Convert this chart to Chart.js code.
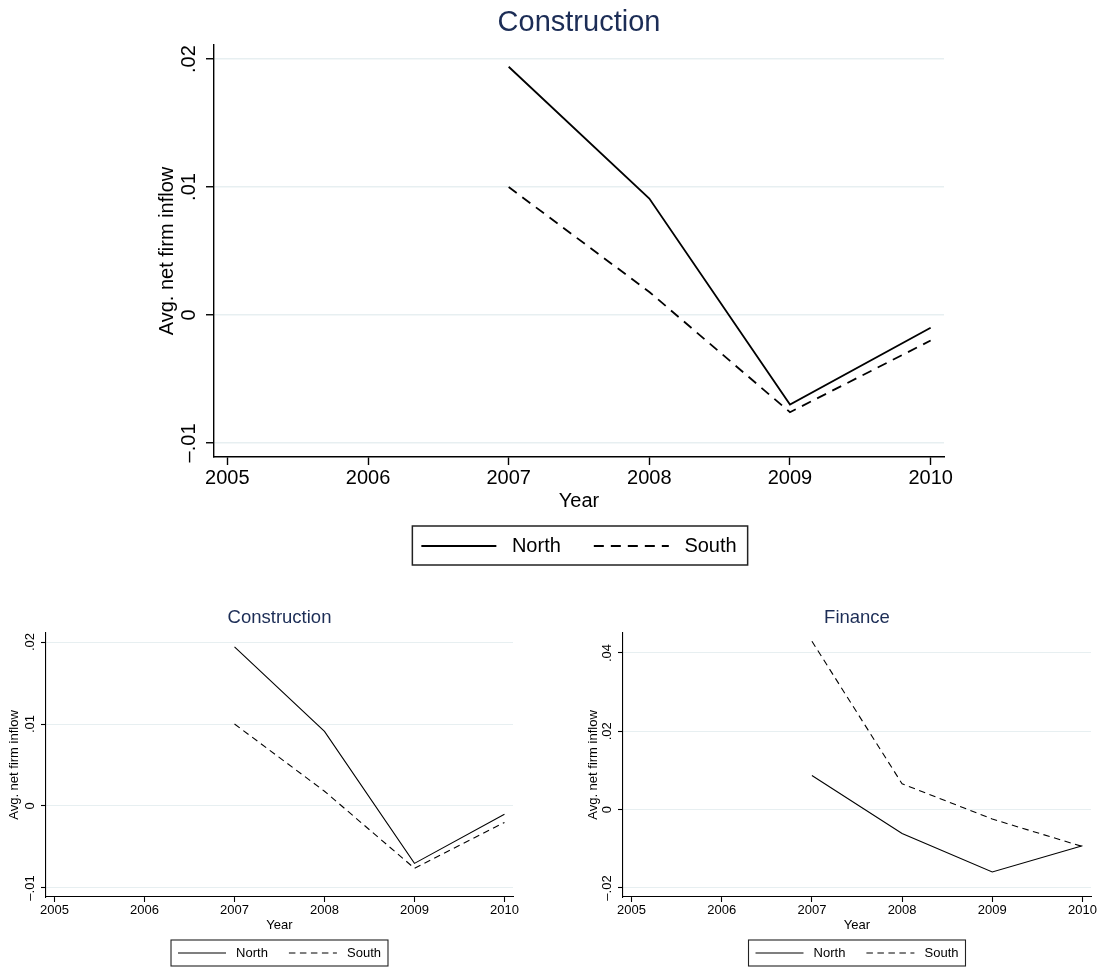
<!DOCTYPE html>
<html>
<head>
<meta charset="utf-8">
<script src="https://cdn.jsdelivr.net/npm/chart.js@4.4.1/dist/chart.umd.min.js"></script>
<style>
  html, body { margin: 0; padding: 0; overflow: hidden; background: #ffffff; width: 1105px; height: 969px; }
  canvas { position: absolute; }
</style>
</head>
<body>
<canvas id="cTop"></canvas>
<canvas id="cLeft"></canvas>
<canvas id="cRight"></canvas>
<script>
// ---------------- data ----------------
const years = [2007, 2008, 2009, 2010];
const xTickValues = [2005, 2006, 2007, 2008, 2009, 2010];
const seriesNames = ['North', 'South'];

const constructionNorth = [0.0194, 0.0091, -0.0070, -0.0010];
const constructionSouth = [0.0100, 0.0018, -0.0076, -0.0020];
const financeNorth = [0.0087, -0.0061, -0.0159, -0.0092];
const financeSouth = [0.0430, 0.0066, -0.0024, -0.0094];

const constructionYTicks = [-0.01, 0, 0.01, 0.02];
const constructionYLabels = ['\u2013.01', '0', '.01', '.02'];
const financeYTicks = [-0.02, 0, 0.02, 0.04];
const financeYLabels = ['\u2013.02', '0', '.02', '.04'];

const constructionRange = [-0.0111, 0.0211];
const financeRange = [-0.0223, 0.0451];
const xRange = [2004.905, 2010.095];

// ---------------- style ----------------
const FONT = '"Liberation Sans", Arial, Helvetica, sans-serif';
const TITLE_COLOR = '#1c2d56';
const GRID_COLOR = '#e7eff1';
Chart.defaults.font.family = FONT;
Chart.defaults.color = '#000';

function measure(text, size) {
  const c = document.createElement('canvas').getContext('2d');
  c.font = size + 'px ' + FONT;
  return c.measureText(text).width;
}

const legendFrame = {
  id: 'legendFrame',
  afterDraw(chart, args, opts) {
    const lg = chart.legend;
    if (!lg || !lg.legendHitBoxes || !lg.legendHitBoxes.length) return;
    let l = Infinity, r = -Infinity, t = Infinity, b = -Infinity;
    lg.legendHitBoxes.forEach(h => {
      l = Math.min(l, h.left); r = Math.max(r, h.left + h.width);
      t = Math.min(t, h.top); b = Math.max(b, h.top + h.height);
    });
    const cy = (t + b) / 2;
    const ctx = chart.ctx;
    ctx.save();
    ctx.strokeStyle = '#222';
    ctx.lineWidth = opts.width;
    ctx.setLineDash([]);
    ctx.strokeRect(l - opts.padL, cy - opts.up, r - l + opts.padL + opts.padR, opts.up + opts.down);
    ctx.restore();
  }
};

function makeChart(id, g, titleText, north, south, yTicks, yLabels, yRange) {
  const cv = document.getElementById(id);
  cv.width = g.canvas.w; cv.height = g.canvas.h;
  cv.style.left = g.canvas.x + 'px'; cv.style.top = g.canvas.y + 'px';
  cv.style.width = g.canvas.w + 'px'; cv.style.height = g.canvas.h + 'px';

  // relative geometry
  const A = { l: g.area.l - g.canvas.x, r: g.area.r - g.canvas.x, t: g.area.t - g.canvas.y, b: g.area.b - g.canvas.y };
  const lhTitle = g.fTitle * 1.2, lhTick = g.fTick * 1.2, lhAxis = g.fAxis * 1.2;
  const titlePadTop = (g.titleCY - g.canvas.y) - lhTitle / 2;
  const titlePadBottom = A.t - titlePadTop - lhTitle;
  const yW = A.l;
  const yTitlePadTop = (g.yTitleCX - g.canvas.x) - lhAxis / 2;
  const widest = Math.max(...yLabels.map(s => measure(s, g.fTick)));
  const yTickPad = (g.area.l - g.yLabelCX) - g.tickLen - widest / 2;
  const xH = (g.legendCY - g.legendPad - g.fLegend / 2) - g.area.b;
  const xTickPad = (g.xLabelCY - g.area.b) - g.tickLen - lhTick / 2;
  const xTitlePadBottom = (g.area.b + xH) - g.xTitleCY - lhAxis / 2;
  const legendH = g.fLegend + g.legendPad + 10;
  const padBottom = g.canvas.h - (A.b + xH + legendH);
  const padRight = g.canvas.w - A.r;

  const mk = (vals) => years.map((yr, i) => ({ x: yr, y: vals[i] }));

  return new Chart(cv, {
    type: 'line',
    data: {
      datasets: [
        { label: seriesNames[0], data: mk(north), borderColor: '#000', backgroundColor: '#000',
          borderWidth: g.lineW, borderDash: [], pointRadius: 0, tension: 0, fill: false },
        { label: seriesNames[1], data: mk(south), borderColor: '#000', backgroundColor: '#000',
          borderWidth: g.lineW, borderDash: g.dash, pointRadius: 0, tension: 0, fill: false }
      ]
    },
    options: {
      responsive: false,
      animation: false,
      devicePixelRatio: 1,
      events: [],
      layout: { padding: { left: 0, top: 0, right: padRight, bottom: padBottom } },
      plugins: {
        tooltip: { enabled: false },
        title: {
          display: true, text: titleText, color: TITLE_COLOR, fullSize: false,
          font: { size: g.fTitle, weight: 'normal', family: FONT, lineHeight: 1.2 },
          padding: { top: titlePadTop, bottom: titlePadBottom }
        },
        legend: {
          display: true, position: 'bottom', align: 'center', fullSize: false,
          labels: {
            usePointStyle: true, pointStyle: 'line', pointStyleWidth: g.sampleW,
            boxHeight: g.fLegend, padding: g.legendPad, color: '#000',
            font: { size: g.fLegend, family: FONT },
            generateLabels(chart) {
              return chart.data.datasets.map((ds, i) => ({
                text: ' ' + ds.label, fillStyle: '#000', strokeStyle: '#000', fontColor: '#000',
                lineWidth: g.lineW, lineDash: ds.borderDash || [], lineCap: 'butt',
                pointStyle: 'line', hidden: false, datasetIndex: i
              }));
            }
          }
        },
        legendFrame: { padL: g.frame.padL, padR: g.frame.padR, up: g.frame.up, down: g.frame.down, width: g.frameW }
      },
      scales: {
        x: {
          type: 'linear', position: 'bottom', min: xRange[0], max: xRange[1],
          afterBuildTicks: s => { s.ticks = xTickValues.map(v => ({ value: v })); },
          afterFit: s => { s.height = xH; },
          ticks: { autoSkip: false, maxRotation: 0, minRotation: 0, padding: xTickPad,
                   font: { size: g.fTick }, color: '#000', callback: v => String(v) },
          grid: { display: true, drawOnChartArea: false, drawTicks: true, tickLength: g.tickLen,
                  tickColor: '#000', tickWidth: g.axisW },
          border: { display: true, color: '#000', width: g.axisW },
          title: { display: true, text: 'Year', color: '#000', font: { size: g.fAxis, lineHeight: 1.2 },
                   padding: { top: 0, bottom: xTitlePadBottom } }
        },
        y: {
          type: 'linear', position: 'left', min: yRange[0], max: yRange[1],
          afterBuildTicks: s => { s.ticks = yTicks.map(v => ({ value: v })); },
          afterFit: s => { s.width = yW; },
          ticks: { autoSkip: false, minRotation: 90, maxRotation: 90, crossAlign: 'center',
                   padding: yTickPad, font: { size: g.fTick }, color: '#000',
                   callback: v => { const i = yTicks.findIndex(t => Math.abs(t - v) < 1e-9); return i >= 0 ? yLabels[i] : ''; } },
          grid: { display: true, drawOnChartArea: true, drawTicks: true, color: GRID_COLOR, lineWidth: g.gridW,
                  tickLength: g.tickLen, tickColor: '#000', tickWidth: g.axisW },
          border: { display: true, color: '#000', width: g.axisW },
          title: { display: true, text: 'Avg. net firm inflow', color: '#000', font: { size: g.fAxis, lineHeight: 1.2 },
                   padding: { top: yTitlePadTop, bottom: 0 } }
        }
      }
    },
    plugins: [legendFrame]
  });
}

const gTop = {
  canvas: { x: 0, y: 0, w: 1105, h: 580 },
  area: { l: 214, t: 45, r: 944, b: 457 },
  fTitle: 29, fTick: 20, fAxis: 20, fLegend: 20,
  titleCY: 22.5, yTitleCX: 167, yLabelCX: 189.5, tickLen: 8,
  xLabelCY: 478, xTitleCY: 501, legendCY: 546, legendPad: 33, sampleW: 75,
  frame: { padL: 9, padR: 11, up: 20, down: 19 },
  lineW: 1.8, dash: [10, 7], axisW: 1.4, gridW: 1.5, frameW: 1.5
};
const gSmallBase = {
  fTitle: 18.5, fTick: 13, fAxis: 13, fLegend: 13,
  titleCY: 618.3, tickLen: 5,
  xLabelCY: 910.5, xTitleCY: 925, legendCY: 953, legendPad: 21, sampleW: 48,
  frame: { padL: 7, padR: 7, up: 13, down: 13 },
  lineW: 1.1, dash: [6.5, 4.5], axisW: 1.1, gridW: 1, frameW: 1.1
};
const gLeft = Object.assign({}, gSmallBase, {
  canvas: { x: 0, y: 600, w: 552, h: 370 },
  area: { l: 46, t: 633, r: 513, b: 897 },
  yTitleCX: 14, yLabelCX: 30
});
const gRight = Object.assign({}, gSmallBase, {
  canvas: { x: 552, y: 600, w: 553, h: 370 },
  area: { l: 623, t: 633, r: 1091, b: 897 },
  yTitleCX: 593, yLabelCX: 607
});

makeChart('cTop', gTop, 'Construction', constructionNorth, constructionSouth, constructionYTicks, constructionYLabels, constructionRange);
makeChart('cLeft', gLeft, 'Construction', constructionNorth, constructionSouth, constructionYTicks, constructionYLabels, constructionRange);
makeChart('cRight', gRight, 'Finance', financeNorth, financeSouth, financeYTicks, financeYLabels, financeRange);
</script>
</body>
</html>
